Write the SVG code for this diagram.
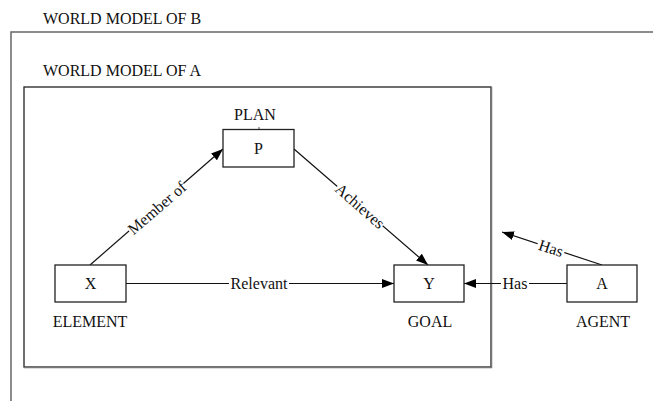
<svg xmlns="http://www.w3.org/2000/svg" width="653" height="401" viewBox="0 0 653 401">
<defs>
<marker id="arr" markerWidth="12" markerHeight="9" refX="12" refY="4.5" orient="auto" markerUnits="userSpaceOnUse">
<path d="M0,0 L12,4.5 L0,9 z" fill="#000"/>
</marker>
<style>
text{font-family:"Liberation Serif","Times New Roman",serif;font-size:16px;fill:#111;}
.c{text-anchor:middle;}
.box{fill:#fff;stroke:#222;stroke-width:1.3;}
.edge{stroke:#111;stroke-width:1.2;fill:none;}
.lbg{fill:#fff;stroke:none;}
</style>
</defs>
<rect x="0" y="0" width="653" height="401" fill="#fff"/>
<g id="world-b">
<polyline points="653,32 11,32 11,401" fill="none" stroke="#666" stroke-width="1.5"/>
<text x="43" y="24">WORLD MODEL OF B</text>
</g>
<g id="world-a">
<rect x="24" y="87" width="467" height="280" fill="none" stroke="#222" stroke-width="1.3"/>
<polyline points="491.5,87 491.5,367.5 24,367.5" fill="none" stroke="#777" stroke-width="1.5"/>
<text x="43" y="76">WORLD MODEL OF A</text>
</g>
<g id="connectors">
<line class="edge" x1="90" y1="265" x2="223" y2="149" marker-end="url(#arr)"/>
<line class="edge" x1="294" y1="149" x2="428" y2="265" marker-end="url(#arr)"/>
<line class="edge" x1="126" y1="283.5" x2="394" y2="283.5" marker-end="url(#arr)"/>
<line class="edge" x1="567" y1="283.5" x2="464" y2="283.5" marker-end="url(#arr)"/>
<line class="edge" x1="602" y1="265" x2="502" y2="232" marker-end="url(#arr)"/>
<line x1="259" y1="127" x2="259" y2="129.5" stroke="#555" stroke-width="1"/>
<g transform="translate(157,208) rotate(-41)">
<rect class="lbg" x="-36" y="-7" width="72" height="14"/>
<text class="c" x="0" y="5.5">Member of</text>
</g>
<g transform="translate(360,206) rotate(41)">
<rect class="lbg" x="-30" y="-7" width="60" height="14"/>
<text class="c" x="0" y="5.5">Achieves</text>
</g>
<rect class="lbg" x="229" y="276" width="60" height="14"/>
<text class="c" x="259" y="289">Relevant</text>
<rect class="lbg" x="501" y="276" width="28" height="14"/>
<text class="c" x="515" y="289">Has</text>
<g transform="translate(551,248) rotate(18)">
<rect class="lbg" x="-14" y="-7" width="28" height="14"/>
<text class="c" x="0" y="5.5">Has</text>
</g>
</g>
<g id="node-p">
<text class="c" x="255" y="120">PLAN</text>
<rect class="box" x="223" y="129.5" width="71" height="37.5"/>
<text class="c" x="258.5" y="154">P</text>
</g>
<g id="node-x">
<rect class="box" x="55" y="265" width="71" height="37"/>
<text class="c" x="90.5" y="289">X</text>
<text class="c" x="90" y="327">ELEMENT</text>
</g>
<g id="node-y">
<rect class="box" x="394" y="265" width="70" height="37"/>
<text class="c" x="429" y="289">Y</text>
<text class="c" x="430" y="327">GOAL</text>
</g>
<g id="node-a">
<rect class="box" x="567" y="265" width="70" height="37"/>
<text class="c" x="602" y="289">A</text>
<text class="c" x="603" y="327">AGENT</text>
</g>
</svg>
